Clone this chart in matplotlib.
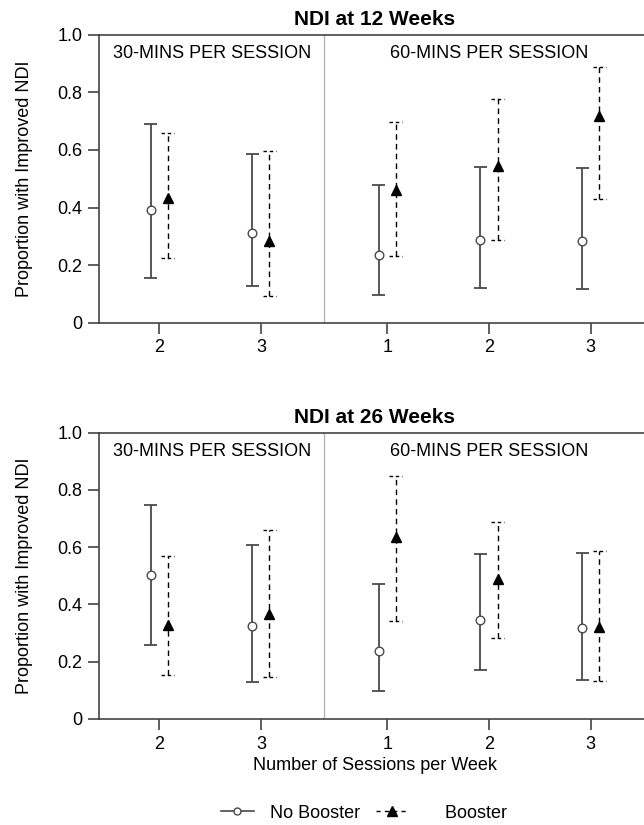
import numpy as np
import matplotlib
matplotlib.use("Agg")
import matplotlib.pyplot as plt
from matplotlib.lines import Line2D

plt.rcParams['font.family'] = ['Liberation Sans', 'DejaVu Sans']

# categories: minutes per session / sessions per week
tick_labels = ["2", "3", "1", "2", "3"]
panel_titles = ["NDI at 12 Weeks", "NDI at 26 Weeks"]

# week 12
wk12_nb = [0.390, 0.313, 0.236, 0.287, 0.285]
wk12_nb_lo = [0.157, 0.126, 0.096, 0.119, 0.118]
wk12_nb_hi = [0.690, 0.585, 0.477, 0.542, 0.538]
wk12_b = [0.432, 0.285, 0.461, 0.545, 0.718]
wk12_b_lo = [0.226, 0.093, 0.233, 0.288, 0.431]
wk12_b_hi = [0.660, 0.598, 0.698, 0.778, 0.889]

# week 26
wk26_nb = [0.502, 0.325, 0.237, 0.346, 0.319]
wk26_nb_lo = [0.257, 0.129, 0.098, 0.171, 0.137]
wk26_nb_hi = [0.746, 0.607, 0.470, 0.576, 0.580]
wk26_b = [0.329, 0.368, 0.636, 0.489, 0.322]
wk26_b_lo = [0.152, 0.146, 0.343, 0.283, 0.133]
wk26_b_hi = [0.570, 0.661, 0.849, 0.689, 0.587]

pos = np.array([0, 1, 2.245, 3.245, 4.245])
divider = 1.623
off = 0.084
cap = 0.064
nb_col = "#4a4a4a"
spine_col = "#444444"

fig = plt.figure(figsize=(6.44, 8.25), dpi=100)
ax1 = fig.add_axes([0.1543, 0.6088, 0.855, 0.3491])
ax2 = fig.add_axes([0.1543, 0.1285, 0.855, 0.3470])

panels = [
    (ax1, wk12_nb, wk12_nb_lo, wk12_nb_hi, wk12_b, wk12_b_lo, wk12_b_hi),
    (ax2, wk26_nb, wk26_nb_lo, wk26_nb_hi, wk26_b, wk26_b_lo, wk26_b_hi),
]

for i, (ax, nb, nlo, nhi, b, blo, bhi) in enumerate(panels):
    xn = pos - off
    xb = pos + off
    # no booster: solid
    ax.vlines(xn, nlo, nhi, color=nb_col, lw=1.3)
    ax.hlines(nlo, xn - cap, xn + cap, color=nb_col, lw=1.3)
    ax.hlines(nhi, xn - cap, xn + cap, color=nb_col, lw=1.3)
    ax.plot(xn, nb, "o", ms=6.2, mfc="white", mec=nb_col, mew=1.0, zorder=3)
    # booster: dashed
    ax.vlines(xb, blo, bhi, color="black", lw=1.0, linestyles=(0, (4, 3)))
    ax.hlines(blo, xb - cap, xb + cap, color="black", lw=1.0, linestyles=(0, (2.5, 2)))
    ax.hlines(bhi, xb - cap, xb + cap, color="black", lw=1.0, linestyles=(0, (2.5, 2)))
    ax.plot(xb, b, "^", ms=7.5, color="black", zorder=3)

    ax.axvline(divider, color="#b5b5b5", lw=1.0)
    ax.set_xlim(-0.59, 4.83)
    ax.set_ylim(0, 1.0)
    ax.set_xticks(pos)
    ax.set_xticklabels(tick_labels)
    ax.set_yticks([0, 0.2, 0.4, 0.6, 0.8, 1.0])
    ax.set_yticklabels(["0", "0.2", "0.4", "0.6", "0.8", "1.0"])
    ax.tick_params(labelsize=13, length=8, width=1.2, color=spine_col, pad=4)
    for s in ["left", "bottom", "top"]:
        ax.spines[s].set_color(spine_col)
        ax.spines[s].set_linewidth(1.2)
    ax.spines["right"].set_visible(False)
    ax.set_ylabel("Proportion with Improved NDI", fontsize=13, labelpad=18)
    ax.set_title(panel_titles[i], fontsize=15, fontweight="bold", pad=7)
    ax.text(0.5 * (-0.59 + divider), 0.965, "30-MINS PER SESSION", ha="center", va="top",
            fontsize=13, transform=ax.get_xaxis_transform())
    ax.text(3.245, 0.965, "60-MINS PER SESSION", ha="center", va="top",
            fontsize=13, transform=ax.get_xaxis_transform())

ax2.set_xlabel("Number of Sessions per Week", fontsize=13, labelpad=3)

handles = [
    Line2D([], [], color=nb_col, lw=1.2, marker="o", ms=5, mfc="white", mec=nb_col),
    Line2D([], [], color="black", lw=1.0, ls=(0, (3, 3)), marker="^", ms=7),
]
fig.legend(handles, ["No Booster", "    Booster"], loc="center", bbox_to_anchor=(364 / 644, 1 - 813 / 825),
           ncol=2, frameon=False, fontsize=13, handlelength=1.8, handletextpad=0.9, columnspacing=0.9)

fig.savefig("out.png", dpi=100)
